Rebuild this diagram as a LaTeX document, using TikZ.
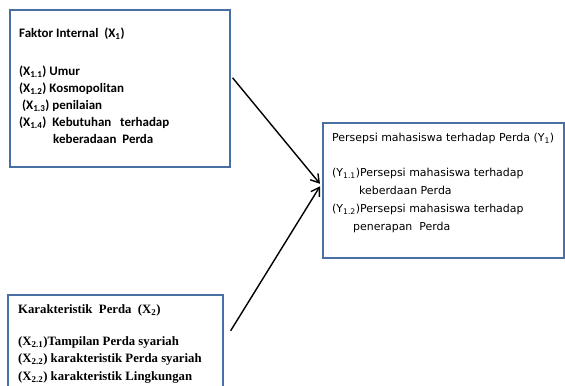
\documentclass[tikz,border=0pt]{standalone}
\usepackage{fontspec}
\newfontfamily\calibrifont{Carlito}
\newfontfamily\verdanafont{DejaVu Sans}
\newfontfamily\timesfont{Liberation Serif}
\usetikzlibrary{positioning,arrows.meta}
\definecolor{boxblue}{RGB}{74,111,165}

\tikzset{
  box/.style={draw=boxblue, line width=1.6bp, inner sep=0pt, anchor=north west},
  boxtext/.style={align=left, inner sep=0pt, anchor=north west},
  arrow/.style={-{Straight Barb[length=8bp,width=10bp]}, line width=1.4bp}
}

\begin{document}
\begin{tikzpicture}[x=1bp, y=-1bp]
  \useasboundingbox (0,0) rectangle (565,385);
  \clip (0,0) rectangle (565,385);

  % boxes
  \node [box, minimum width=220bp, minimum height=157bp] (x1) at (9,9) {};
  \node [box, minimum width=241bp, minimum height=135bp] (yb) at (322,122) {};
  \node [box, minimum width=215bp, minimum height=100bp] (x2) at (7,294) {};

  % texts
  \node [boxtext, font=\calibrifont\bfseries\fontsize{13}{17.2}\selectfont] (x1t) at (19,27.5)
    {Faktor Internal\ \ (X\textsubscript{1})\\[21bp]
     (X\textsubscript{1.1}) Umur\\
     (X\textsubscript{1.2}) Kosmopolitan\\
     \ (X\textsubscript{1.3}) penilaian\\
     (X\textsubscript{1.4})\ \ Kebutuhan\ \ \ terhadap\\
     \hspace*{34bp}keberadaan\ \ Perda};
  \node [boxtext, font=\verdanafont\fontsize{11}{18}\selectfont] (ytt) at (332,133)
    {Persepsi mahasiswa terhadap Perda (Y\textsubscript{1})\\[17bp]
     (Y\textsubscript{1.1})Persepsi mahasiswa terhadap\\
     \hspace*{27bp}keberdaan Perda\\
     (Y\textsubscript{1.2})Persepsi mahasiswa terhadap\\
     \hspace*{21bp}penerapan\ \ Perda};
  \node [boxtext, font=\timesfont\bfseries\fontsize{12.8}{17.5}\selectfont] (x2t) at (18,304.5)
    {Karakteristik\ \ Perda\ \ (X\textsubscript{2})\\[14.5bp]
     (X\textsubscript{2.1})Tampilan Perda syariah\\
     (X\textsubscript{2.2}) karakteristik Perda syariah\\
     (X\textsubscript{2.2}) karakteristik Lingkungan};

  % arrows
  \draw [arrow] ([xshift=2bp,yshift=10.5bp]x1.east) -- ([xshift=-2bp,yshift=6.5bp]yb.west);
  \draw [arrow] ([xshift=7bp,yshift=14bp]x2.east) -- ([xshift=-2bp,yshift=4bp]yb.west);
\end{tikzpicture}
\end{document}
